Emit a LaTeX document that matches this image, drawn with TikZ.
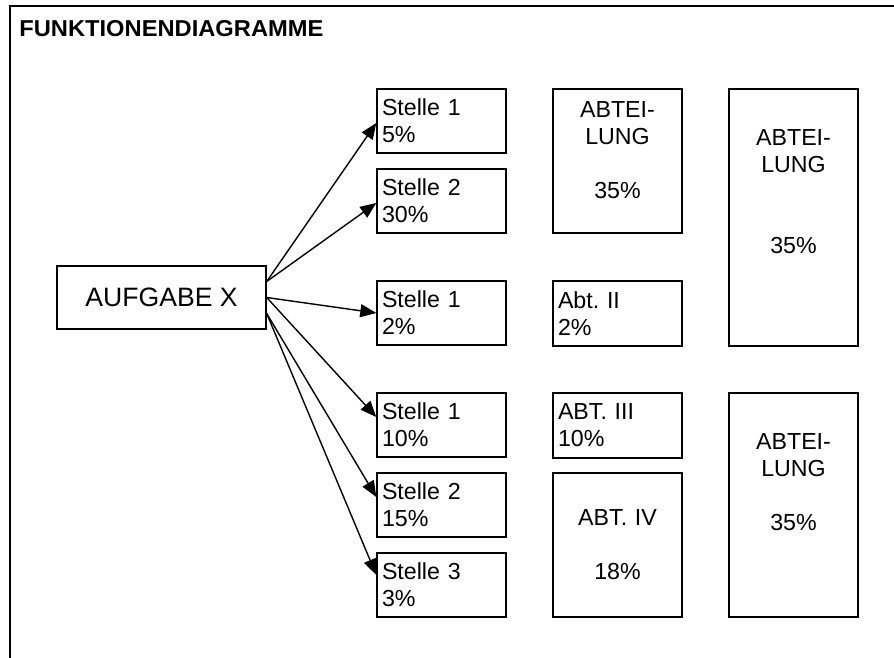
\documentclass[tikz,border=0pt]{standalone}
\usepackage{fontspec}
\usepackage{graphicx}
\setmainfont{Liberation Sans}
\usetikzlibrary{arrows.meta}

\tikzset{
  box/.style={draw, line width=0.7pt, inner xsep=2.5pt, inner ysep=0pt,
    text width=59.5pt, font=\fontsize{11.6}{13.5}\selectfont},
  stelle/.style={box, align=left, minimum height=32pt},
  abt/.style={box, align=center},
  pfeil/.style={line width=0.7pt, -{Triangle[length=8pt,width=6.5pt]}},
}

\begin{document}
\frenchspacing
\begin{tikzpicture}[x=0.5pt, y=-0.5pt]
    \useasboundingbox (0,0) rectangle (894,658);

    % Frame and title
    \draw[line width=0.85pt] (10,658) -- (10,6) -- (894,6);
    \node[anchor=base west, inner sep=0pt, font=\bfseries\fontsize{11.5}{13}\selectfont]
        (titel) at (19,37) {\scalebox{1.03}[1]{FUNKTIONENDIAGRAMME}};

    % Task
    \node[draw, line width=0.7pt, minimum width=104.5pt, minimum height=31.5pt,
        font=\fontsize{13.3}{16}\selectfont] (aufgabe) at (161.5,297.5) {AUFGABE X};

    % Positions
    \node[stelle] (s1) at (441.5,121) {Stelle 1\\5\%};
    \node[stelle] (s2) at (441.5,201) {Stelle 2\\30\%};
    \node[stelle] (s3) at (441.5,313) {Stelle 1\\2\%};
    \node[stelle] (s4) at (441.5,425) {Stelle 1\\10\%};
    \node[stelle] (s5) at (441.5,505) {Stelle 2\\15\%};
    \node[stelle] (s6) at (441.5,585) {Stelle 3\\3\%};

    % Departments
    \node[abt, minimum height=72pt] (abt1) at (617.5,161) {ABTEI-\\LUNG\\[13.5pt]35\%\\[-2.5pt]\mbox{}};
    \node[stelle, minimum height=32.5pt] (abt2) at (617.5,313.5) {Abt. II\\2\%};
    \node[stelle, minimum height=32.5pt] (abt3) at (617.5,425.5) {ABT. III\\10\%};
    \node[abt, minimum height=72pt] (abt4) at (617.5,545) {ABT. IV\\[13.5pt]18\%};
    \node[abt, minimum height=128.5pt] (abt5) at (793.5,217.5) {ABTEI-\\LUNG\\[27pt]35\%\\[12.5pt]\mbox{}};
    \node[abt, minimum height=112pt] (abt6) at (793.5,505) {ABTEI-\\LUNG\\[13.5pt]35\%\\[9pt]\mbox{}};

    % Connections
    \coordinate (o1) at ([yshift=8pt]aufgabe.east);
    \coordinate (o2) at (aufgabe.east);
    \coordinate (o3) at ([yshift=-8pt]aufgabe.east);
    \draw[pfeil] (o1) -- ([yshift=-1pt]s1.west);
    \draw[pfeil] (o1) -- ([yshift=-1pt]s2.west);
    \draw[pfeil] (o2) -- (s3.west);
    \draw[pfeil] (o2) -- ([yshift=4pt]s4.west);
    \draw[pfeil] (o3) -- ([yshift=4pt]s5.west);
    \draw[pfeil] (o3) -- ([yshift=5pt]s6.west);
\end{tikzpicture}
\end{document}
